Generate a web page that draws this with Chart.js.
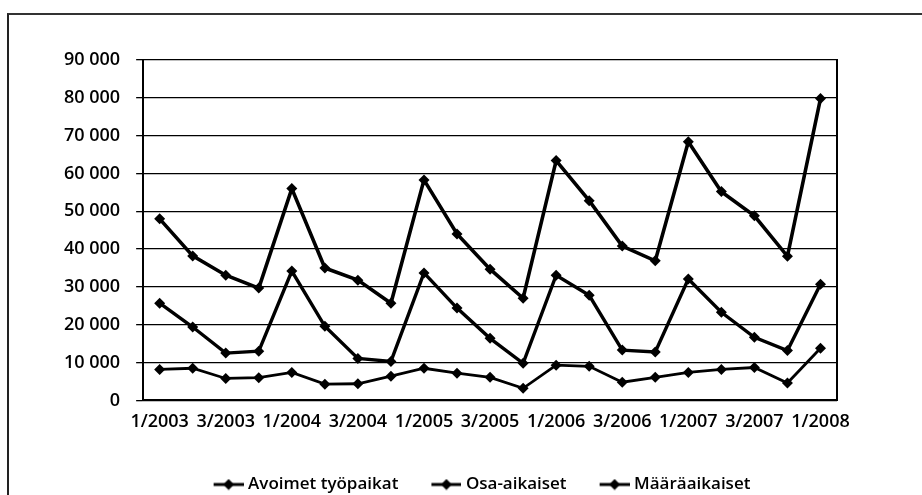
<!DOCTYPE html>
<html>
<head>
<meta charset="utf-8">
<script src="https://cdn.jsdelivr.net/npm/chart.js@4/dist/chart.umd.min.js"></script>
<style>
  html, body { margin: 0; padding: 0; background: #fff; overflow: hidden; }
  #wrap { position: relative; width: 922px; height: 495px; }
  #frame { position: absolute; left: 7px; top: 13px; width: 1000px; height: 1000px;
           border-left: 2px solid #222; border-top: 2px solid #333; }
  canvas { position: absolute; left: 0; top: 0; }
</style>
</head>
<body>
<div id="wrap">
  <div id="frame"></div>
  <canvas id="chart" width="922" height="495"></canvas>
</div>
<script>
const quarters = [
  '1/2003', '2/2003', '3/2003', '4/2003',
  '1/2004', '2/2004', '3/2004', '4/2004',
  '1/2005', '2/2005', '3/2005', '4/2005',
  '1/2006', '2/2006', '3/2006', '4/2006',
  '1/2007', '2/2007', '3/2007', '4/2007',
  '1/2008'
];
const avoimet = [48000, 38200, 33100, 29700, 56000, 35000, 31800, 25700, 58300, 44000, 34700, 27000,
  63400, 52800, 40800, 36900, 68400, 55200, 48800, 38100, 79800];
const osaAikaiset = [25700, 19400, 12500, 13000, 34200, 19600, 11100, 10300, 33700, 24400, 16400, 9800,
  33100, 27800, 13300, 12800, 32100, 23300, 16700, 13200, 30700];
const maaraaikaiset = [8200, 8500, 5800, 6000, 7400, 4300, 4400, 6400, 8500, 7200, 6100, 3200,
  9300, 9000, 4800, 6100, 7400, 8200, 8700, 4600, 13800];
const seriesNames = ['Avoimet työpaikat', 'Osa-aikaiset', 'Määräaikaiset'];

// legend symbol: transparent gap on the left, then a short line with a diamond
function legendIcon() {
  const c = document.createElement('canvas');
  c.width = 53; c.height = 12;
  const g = c.getContext('2d');
  g.strokeStyle = '#000'; g.lineWidth = 3;
  g.beginPath(); g.moveTo(23, 6); g.lineTo(53, 6); g.stroke();
  g.fillStyle = '#000';
  g.beginPath(); g.moveTo(38, 0.5); g.lineTo(43.5, 6); g.lineTo(38, 11.5); g.lineTo(32.5, 6); g.closePath(); g.fill();
  return c;
}
const icon = legendIcon();

// the legend sits a bit right of the canvas centre in the original
const legendShift = {
  id: 'legendShift',
  afterLayout(chart) {
    chart.legend.left += 30;
    chart.legend.right += 30;
  }
};

function ds(label, data, width) {
  return {
    label: label,
    data: data,
    borderColor: '#000',
    backgroundColor: '#000',
    borderWidth: width,
    pointStyle: 'rectRot',
    pointRadius: 5.5,
    pointBackgroundColor: '#000',
    pointBorderWidth: 0,
    tension: 0,
  };
}

const font = { family: "'Open Sans', sans-serif", size: 18, weight: '600' };

new Chart(document.getElementById('chart'), {
  type: 'line',
  plugins: [legendShift],
  data: {
    labels: quarters,
    datasets: [
      ds(seriesNames[0], avoimet, 3.6),
      ds(seriesNames[1], osaAikaiset, 3.4),
      ds(seriesNames[2], maaraaikaiset, 2.8),
    ]
  },
  options: {
    responsive: false,
    animation: false,
    layout: { padding: { left: 48, right: 85, top: 60, bottom: -8 } },
    plugins: {
      legend: {
        position: 'bottom',
        labels: {
          color: '#000',
          font: { family: font.family, size: 17, weight: '600' },
          usePointStyle: true,
          pointStyleWidth: 45,
          padding: 14,
          generateLabels: (chart) => chart.data.datasets.map((d, i) => ({
            text: d.label,
            pointStyle: icon,
            fillStyle: '#000',
            strokeStyle: '#000',
            fontColor: '#000',
            lineWidth: 0,
            datasetIndex: i,
          })),
        },
      },
      title: { display: false },
      tooltip: { enabled: false },
    },
    scales: {
      x: {
        offset: true,
        grid: { display: false, drawTicks: false },
        border: { color: '#000', width: 2 },
        afterFit: (scale) => { scale.height += 18; },
        ticks: {
          color: '#000',
          font: font,
          autoSkip: false,
          maxRotation: 0,
          padding: 11,
          callback: function (v, i) { return i % 2 === 0 ? this.getLabelForValue(v) : ''; },
        },
      },
      y: {
        min: 0,
        max: 90000,
        grid: { color: '#000', lineWidth: 1.3, tickLength: 7 },
        border: { color: '#000', width: 2 },
        ticks: {
          color: '#000',
          font: font,
          stepSize: 10000,
          padding: 16,
          callback: (v) => v === 0 ? '0' : String(v / 1000) + ' 000',
        },
      },
      y2: {
        position: 'right',
        min: 0,
        max: 90000,
        grid: { display: false, drawTicks: false },
        border: { color: '#000', width: 2 },
        ticks: { display: false },
      },
    },
  },
});
</script>
</body>
</html>
